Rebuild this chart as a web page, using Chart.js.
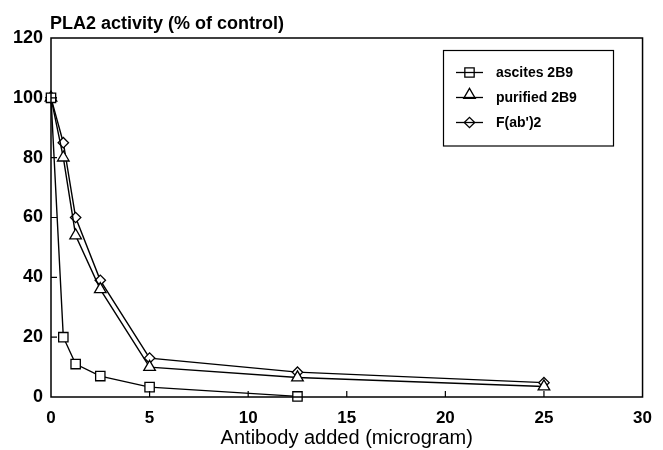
<!DOCTYPE html>
<html>
<head>
<meta charset="utf-8">
<script src="https://cdn.jsdelivr.net/npm/chart.js@4"></script>
<style>
html,body{margin:0;padding:0;background:#fff;}
#wrap{width:663px;height:450px;}
</style>
</head>
<body>
<div id="wrap"><canvas id="c" width="663" height="450"></canvas></div>
<script>
const doses = [0, 0.625, 1.25, 2.5, 5, 12.5, 25];
const ascites2B9 = [100, 20, 11, 7, 3.3, 0.2, null];
const purified2B9 = [100, 80, 54, 36, 10, 6.5, 3.5];
const fab2 = [100, 85, 60, 39, 13, 8.3, 4.8];
const seriesNames = ['ascites 2B9', 'purified 2B9', "F(ab')2"];
const xTicks = [0, 5, 10, 15, 20, 25, 30];
const yTicks = [0, 20, 40, 60, 80, 100, 120];
const chartTitle = 'PLA2 activity (% of control)';
const xTitle = 'Antibody added (microgram)';

const FONT = '"Liberation Sans", Arial, Helvetica, sans-serif';

function toXY(vals){
  const out = [];
  vals.forEach((v,i)=>{ if (v !== null) out.push({x: doses[i], y: v}); });
  return out;
}

const styles = [
  {pointStyle:'rect', r:6.6},
  {pointStyle:'triangle', r:6.7},
  {pointStyle:'rectRot', r:5.2}
];
const allSeries = [ascites2B9, purified2B9, fab2];

const datasets = allSeries.map((s,i)=>({
  label: seriesNames[i],
  data: toXY(s),
  borderColor:'#000',
  borderWidth:1.4,
  pointStyle: styles[i].pointStyle,
  pointRadius: styles[i].r,
  pointHoverRadius: styles[i].r,
  pointBackgroundColor:'#fff',
  pointBorderColor:'#000',
  pointBorderWidth:1.3,
  tension:0,
  fill:false,
  clip:false
}));

const framePlugin = {
  id:'frame',
  afterDraw(chart){
    const ctx = chart.ctx;
    const a = chart.chartArea;
    const xs = chart.scales.x, ys = chart.scales.y;
    ctx.save();
    ctx.strokeStyle = '#000';
    ctx.lineWidth = 1.5;
    ctx.strokeRect(a.left, a.top, a.right - a.left, a.bottom - a.top);
    ctx.lineWidth = 1.2;
    ctx.beginPath();
    xTicks.forEach(t=>{
      if (t <= xs.min || t >= xs.max) return;
      const px = xs.getPixelForValue(t);
      ctx.moveTo(px, a.bottom);
      ctx.lineTo(px, a.bottom - 6);
    });
    yTicks.forEach(t=>{
      if (t <= ys.min || t >= ys.max) return;
      const py = ys.getPixelForValue(t);
      ctx.moveTo(a.left, py);
      ctx.lineTo(a.left + 6, py);
    });
    ctx.stroke();

    ctx.fillStyle = '#000';
    ctx.font = 'bold 18px ' + FONT;
    ctx.textAlign = 'left';
    ctx.textBaseline = 'alphabetic';
    ctx.fillText(chartTitle, a.left - 1, 29);

    const bx = 443.5, by = 50.5, bw = 170, bh = 95.5;
    ctx.lineWidth = 1.2;
    ctx.strokeRect(bx, by, bw, bh);
    const rows = [72.5, 97.5, 122.5];
    const dy = [0, -2.5, 0];
    ctx.font = 'bold 14px ' + FONT;
    ctx.textBaseline = 'middle';
    rows.forEach((ry,i)=>{
      ctx.lineWidth = 1.3;
      ctx.strokeStyle = '#000';
      ctx.beginPath();
      ctx.moveTo(456, ry);
      ctx.lineTo(483, ry);
      ctx.stroke();
      ctx.fillStyle = 'rgba(0,0,0,0)';
      Chart.helpers.drawPoint(ctx, {pointStyle: styles[i].pointStyle, radius: styles[i].r, rotation:0, borderWidth:1.3}, 469.5, ry + dy[i]);
      ctx.fillStyle = '#000';
      ctx.fillText(seriesNames[i], 496, ry + 0.5);
    });
    ctx.restore();
  }
};

new Chart(document.getElementById('c'), {
  type:'line',
  data:{datasets},
  options:{
    responsive:false,
    animation:false,
    events:[],
    layout:{padding:{top:38, right:20, left:0, bottom:0}},
    plugins:{legend:{display:false}, title:{display:false}, tooltip:{enabled:false}},
    scales:{
      x:{
        type:'linear',
        min:0, max:30,
        afterBuildTicks(s){ s.ticks = xTicks.map(v=>({value:v})); },
        afterFit(s){ s.height = 53; },
        grid:{display:false, drawTicks:false},
        border:{display:false},
        ticks:{color:'#000', font:{family:FONT, size:17, weight:'bold'}, padding:11, maxRotation:0},
        title:{display:true, text:xTitle, color:'#000', font:{family:FONT, size:20}, padding:{top:0,bottom:0}}
      },
      y:{
        min:0, max:120,
        afterBuildTicks(s){ s.ticks = yTicks.map(v=>({value:v})); },
        afterFit(s){ s.width = 51; },
        grid:{display:false, drawTicks:false},
        border:{display:false},
        ticks:{color:'#000', font:{family:FONT, size:18, weight:'bold'}, padding:8}
      }
    }
  },
  plugins:[framePlugin]
});
</script>
</body>
</html>
